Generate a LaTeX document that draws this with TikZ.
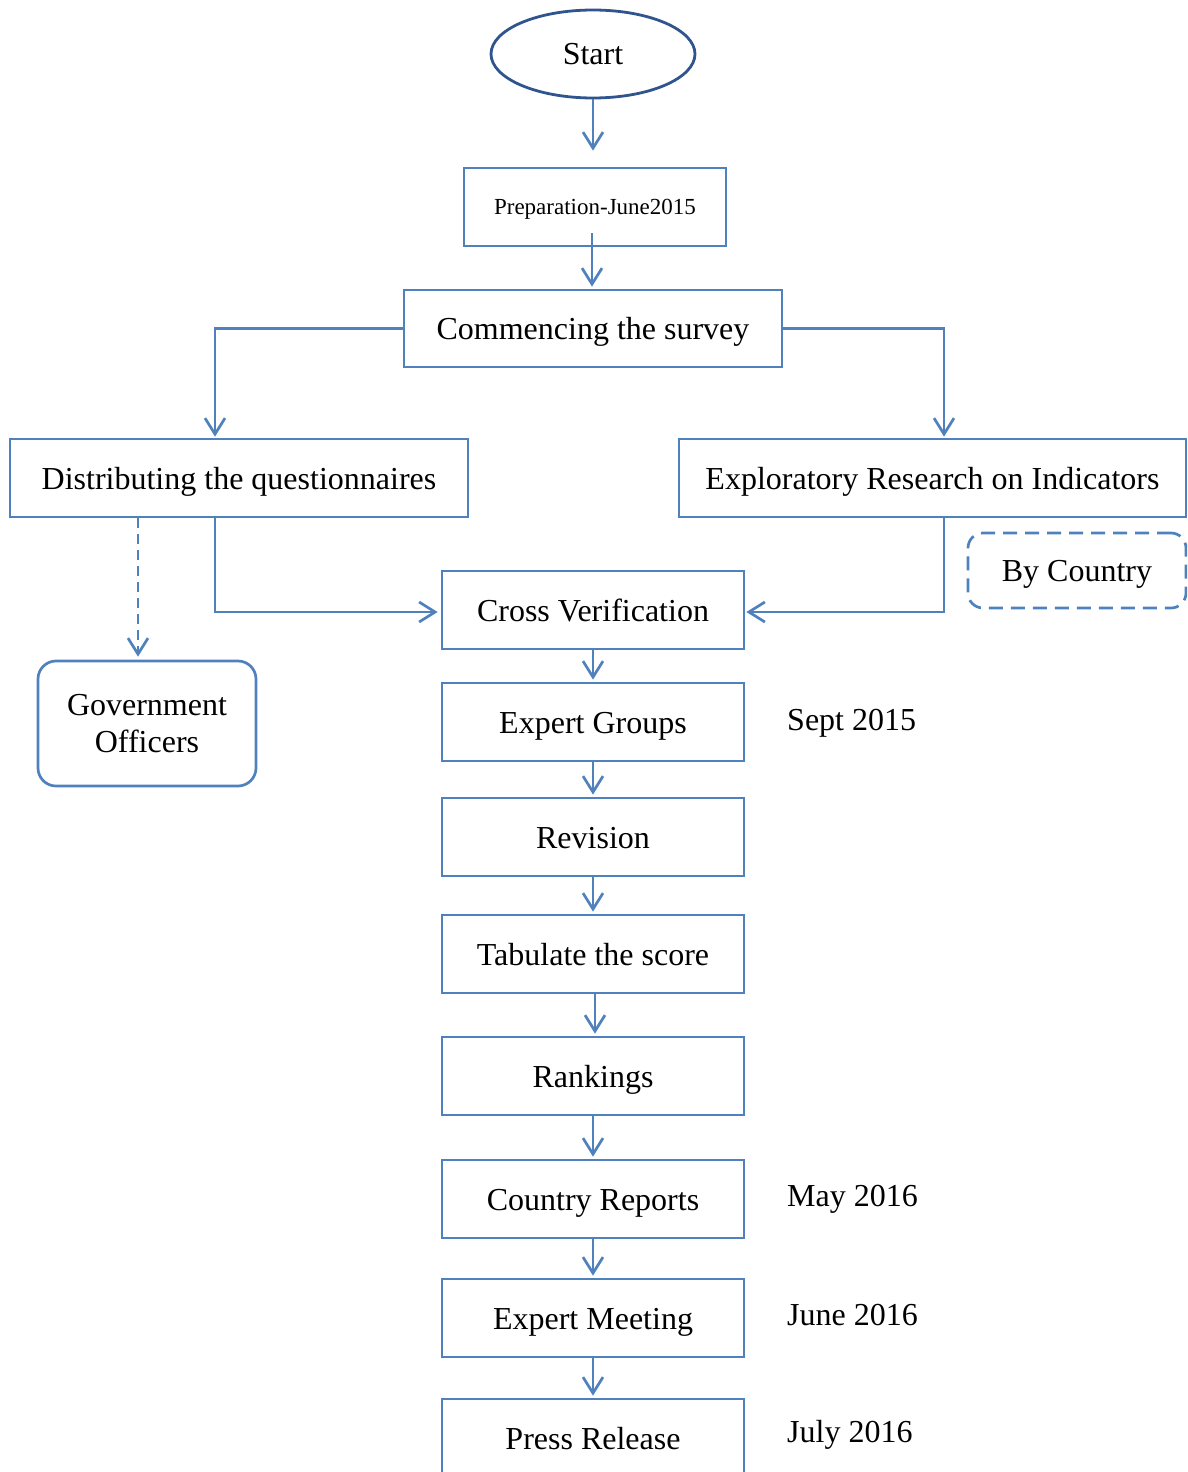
\documentclass[tikz,border=0pt]{standalone}
\usepackage{fontspec}
\setmainfont{Liberation Serif}
\usetikzlibrary{arrows.meta,shapes.geometric,calc}
\definecolor{lineblue}{RGB}{79,129,189}
\definecolor{startblue}{RGB}{47,84,142}
\begin{document}
\begin{tikzpicture}[x=1pt,y=-1pt,
  every node/.style={font=\fontsize{32}{37}\selectfont, text=black},
  box/.style={draw=lineblue, line width=2.7pt, rectangle, inner sep=0pt,
     minimum width=#1, minimum height=78pt, text height=22pt, text depth=0pt},
  box/.default=302pt,
  arr/.style={draw=lineblue, line width=2.7pt, -{Straight Barb[length=16pt,width=20pt]}},
  datelbl/.style={anchor=base west, inner sep=0pt}
]
\useasboundingbox (0,0) rectangle (1187,1472);
\clip (0,0) rectangle (1187,1472);

% nodes
\node[ellipse, draw=startblue, line width=2.8pt, minimum width=204pt, minimum height=88pt,
      inner sep=0pt, text height=22pt, text depth=0pt] (start) at (593,54) {Start};
\node[box=262pt, font=\fontsize{23}{27}\selectfont, text height=15pt] (prep) at (595,207) {Preparation-June2015};
\node[box=378pt, minimum height=77pt] (comm) at (593,328.5) {Commencing the survey};
\node[box=458pt] (dist) at (239,478) {Distributing the questionnaires};
\node[box=507pt] (expl) at (932.5,478) {Exploratory Research on Indicators};
\node[box] (cross) at (593,610) {Cross Verification};
\node[draw=lineblue, line width=2.7pt, rounded corners=18pt, minimum width=218pt,
      minimum height=125pt, inner sep=0pt, align=center] (gov) at (147,723.5) {Government\\Officers};
\node[draw=lineblue, line width=2.7pt, dashed, dash pattern=on 14pt off 8pt, rounded corners=15pt,
      minimum width=218pt, minimum height=75pt, inner sep=0pt, text height=22pt, text depth=0pt]
      (byc) at (1077,570.5) {By Country};
\node[box] (eg) at (593,722) {Expert Groups};
\node[box] (rev) at (593,837) {Revision};
\node[box] (tab) at (593,954) {Tabulate the score};
\node[box] (rank) at (593,1076) {Rankings};
\node[box] (cr) at (593,1199) {Country Reports};
\node[box] (em) at (593,1318) {Expert Meeting};
\node[box] (pr) at (593,1438) {Press Release};

% date labels
\node[datelbl] (d1) at (787,730) {Sept 2015};
\node[datelbl] (d2) at (787,1206) {May 2016};
\node[datelbl] (d3) at (787,1325) {June 2016};
\node[datelbl] (d4) at (787,1442) {July 2016};

% connectors
\coordinate (p1) at ($(prep.north)+(-1,-16)$);
\draw[arr] (start.south) -- (start.south |- p1);
\coordinate (q1) at ($(prep.south)+(-3,-14)$);
\draw[arr, shorten >=2pt] (q1) -- (q1 |- comm.north);
\draw[arr, shorten >=1pt] (comm.west) -| ([xshift=-24pt]dist.north);
\draw[arr, shorten >=1pt] (comm.east) -| ([xshift=11.5pt]expl.north);
\draw[arr, dashed, dash pattern=on 10pt off 6pt, shorten >=3pt] ([xshift=-101pt]dist.south) -- ([xshift=-9pt]gov.north);
\draw[arr, shorten >=3pt] ([xshift=-24pt]dist.south) |- ([yshift=-2pt]cross.west);
\draw[arr, shorten >=1pt] ([xshift=11.5pt]expl.south) |- ([yshift=-2pt]cross.east);
\draw[arr, shorten >=2pt] (cross.south) -- (eg.north);
\draw[arr, shorten >=2pt] (eg.south) -- (rev.north);
\draw[arr, shorten >=2pt] (rev.south) -- (tab.north);
\draw[arr, shorten >=2pt] ([xshift=2pt]tab.south) -- ([xshift=2pt]rank.north);
\draw[arr, shorten >=2pt] (rank.south) -- (cr.north);
\draw[arr, shorten >=2pt] (cr.south) -- (em.north);
\draw[arr, shorten >=2pt] (em.south) -- (pr.north);
\end{tikzpicture}
\end{document}
